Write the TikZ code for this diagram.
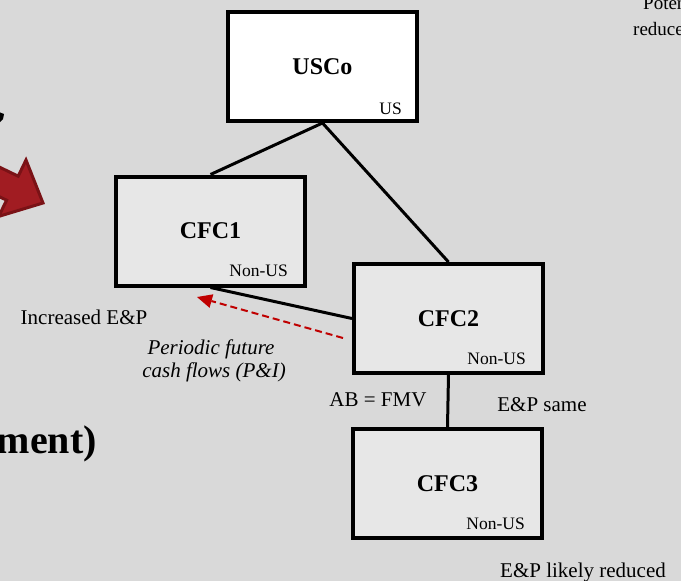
\documentclass[tikz,border=0pt]{standalone}
\usepackage{fontspec}
\setmainfont{Liberation Serif}
\usetikzlibrary{arrows.meta,calc,backgrounds}
\definecolor{canvas}{HTML}{D9D9D9}
\definecolor{boxgray}{HTML}{E7E7E7}
\definecolor{flowred}{HTML}{C00000}
\definecolor{bigarrow}{HTML}{A11C22}
\definecolor{bigarrowedge}{HTML}{7A1216}
\begin{document}
\begin{tikzpicture}[x=1pt,y=-1pt,
  entity/.style={draw=black,line width=4pt,fill=boxgray,
    minimum width=189pt,minimum height=109pt,inner sep=0pt,
    font=\fontsize{24}{28}\selectfont\bfseries},
  tag/.style={inner sep=0pt,anchor=base east,font=\fontsize{17.5}{20}\selectfont},
  note/.style={inner sep=0pt,anchor=base,font=\fontsize{21}{25}\selectfont},
  link/.style={draw=black,line width=3pt},
  flow/.style={draw=flowred,line width=2pt,dash pattern=on 7pt off 4pt,
    -{Triangle[length=15pt,width=14pt,fill=flowred,line width=0pt]}},
  thickarrow/.style={fill=bigarrow,draw=bigarrowedge,line width=3pt,line join=miter}]
  % page frame
  \useasboundingbox (0,0) rectangle (681,581);
  \clip (0,0) rectangle (681,581);

  % fragments running in from the left and top edges
  \fill[black] (-1,112) -- (4,114) -- (3,119) -- (-1,123) -- cycle;
  \draw[thickarrow] (-53.8,141.3) -- (18.2,176.2) -- (26,160) -- (43,203)
    -- (-1.3,216.4) -- (6.6,200.2) -- (-65.4,165.3) -- cycle;
  \node[inner sep=0pt,anchor=base east,font=\fontsize{40}{44}\selectfont\bfseries]
    (tail) at (97,453) {ment)};
  \node[inner sep=0pt,anchor=base west,font=\fontsize{19}{22}\selectfont]
    (potA) at (643,9) {Potential};
  \node[inner sep=0pt,anchor=base west,font=\fontsize{19}{22}\selectfont]
    (potB) at (633,35) {reduced};

  % entities
  \node[entity,fill=white] (usco) at (322.5,66.5) {USCo};
  \node[entity] (cfc1) at (210.5,231) {CFC1};
  \node[entity] (cfc2) at (448.5,318.5) {CFC2};
  \node[entity] (cfc3) at (447.5,483.5) {CFC3};

  \node[tag] (uscoTag) at ($(usco.south east)+(-17,-9)$) {US};
  \node[tag] (cfc1Tag) at ($(cfc1.south east)+(-19,-11)$) {Non-US};
  \node[tag] (cfc2Tag) at ($(cfc2.south east)+(-19,-11)$) {Non-US};
  \node[tag] (cfc3Tag) at ($(cfc3.south east)+(-19,-11)$) {Non-US};

  % canvas and ownership lines, behind the boxes
  \begin{pgfonlayer}{background}
    \fill[canvas] (0,0) rectangle (681,581);
    \draw[link] (usco.south) -- (cfc1.north);
    \draw[link] (usco.south) -- (cfc2.north);
    \draw[link] (cfc1.south) -- (cfc2.west);
    \draw[link] (cfc2.south) -- (cfc3.north);
  \end{pgfonlayer}

  % cash flow back to CFC1
  \coordinate (flowStart) at (343,338);
  \coordinate (flowEnd) at (197,297);
  \draw[flow] (flowStart) -- (flowEnd);

  % annotations
  \node[note] (incr) at (84,324) {Increased E\&P};
  \node[note,font=\fontsize{21}{25}\selectfont\itshape] (pfA) at (211,354) {Periodic future};
  \node[note,font=\fontsize{21}{25}\selectfont\itshape] (pfB) at (214,377) {cash flows (P\&I)};
  \node[note] (abfmv) at (378,406) {AB = FMV};
  \node[note] (same) at (542,411) {E\&P same};
  \node[note] (reduced) at (583,577) {E\&P likely reduced};
\end{tikzpicture}
\end{document}
